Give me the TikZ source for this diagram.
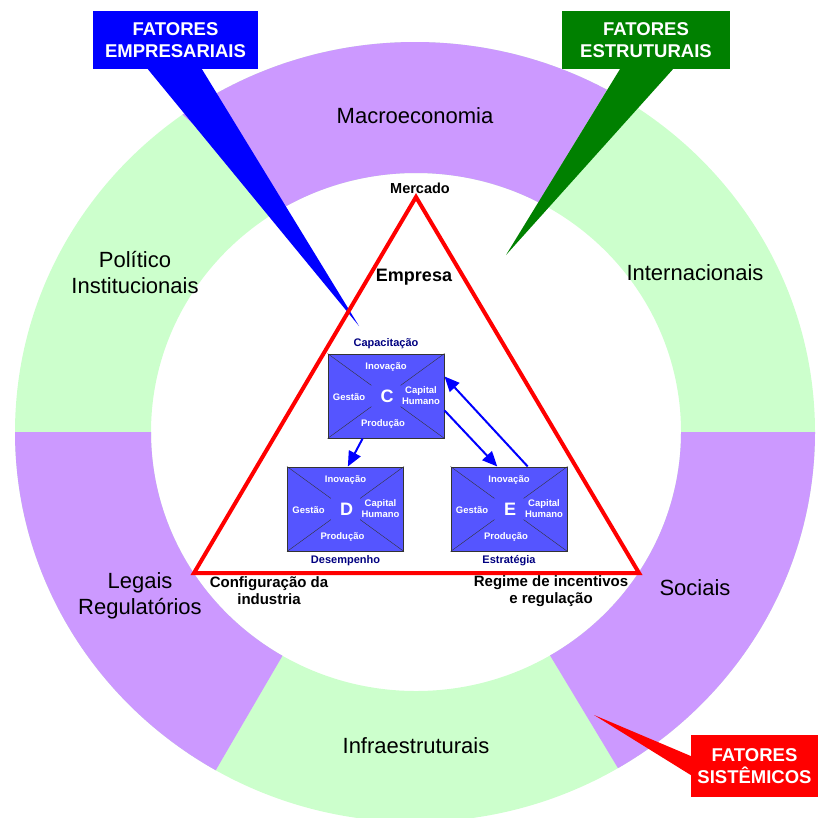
\documentclass[tikz,border=0pt]{standalone}
\usepackage{fontspec}
\setmainfont{Liberation Sans}
\usetikzlibrary{arrows.meta,positioning,calc}
\definecolor{lilas}{RGB}{204,153,255}
\definecolor{verdec}{RGB}{204,255,204}
\definecolor{azulbox}{RGB}{85,85,255}
\definecolor{marinho}{RGB}{0,0,128}
\definecolor{verdee}{RGB}{0,128,0}

\begin{document}
\begin{tikzpicture}[x=1pt,y=-1pt,>={Triangle[length=15pt,width=13pt]},
 seg/.style={font=\fontsize{22}{26}\selectfont,align=center},
 callout/.style={text=white,font=\fontsize{18.5}{22}\selectfont\bfseries,align=center,inner sep=0pt},
 fbox/.style={draw=black!80,line width=1pt,fill=azulbox,minimum width=116pt,minimum height=84pt,inner sep=0pt},
 intxt/.style={text=white,font=\fontsize{9.5}{11}\selectfont\bfseries,align=center},
 lbl/.style={text=marinho,font=\fontsize{11}{13}\selectfont\bfseries},
 tri/.style={font=\fontsize{15}{17}\selectfont\bfseries,align=center}]
\useasboundingbox (0,0) rectangle (818,817);
% anel dos fatores sistemicos
\fill[verdec,even odd rule] (415,432) ellipse [x radius=400pt,y radius=390pt]
 (416,432) ellipse [x radius=265pt,y radius=259pt];
\begin{scope}[even odd rule]
\clip (415,432) ellipse [x radius=400pt,y radius=390pt]
 (416,432) ellipse [x radius=265pt,y radius=259pt];
\fill[lilas] (-21,-65) -- (336,250) -- (506,256) -- (710,-80) -- cycle;
\fill[lilas] (-50,432) -- (350,432) -- (315,600) -- (150,883) -- (-50,883) -- cycle;
\fill[lilas] (880,432) -- (480,432) -- (516,599) -- (686,881) -- (880,881) -- cycle;
\end{scope}
\node[seg] (macro) at (415,116) {Macroeconomia};
\node[seg] (pol) at (135,273) {Político\\Institucionais};
\node[seg] (inter) at (695,273) {Internacionais};
\node[seg] (leg) at (140,596) {Legais\\Regulatórios};
\node[seg] (soc) at (695,588) {Sociais};
\node[seg] (infra) at (416,746) {Infraestruturais};
% chamadas
\node[callout,fill=blue,minimum width=165pt,minimum height=58pt] (femp) at (175.5,40) {FATORES\\EMPRESARIAIS};
\coordinate (femptip) at (359,326);
\fill[blue] ($(femp.south west)!0.333!(femp.south east)$) -- ($(femp.south west)!0.66!(femp.south east)$) -- (femptip) -- cycle;
\node[callout,fill=verdee,minimum width=168pt,minimum height=58pt] (fest) at (646,40) {FATORES\\ESTRUTURAIS};
\coordinate (festtip) at (506,255);
\fill[verdee] ($(fest.south west)!0.345!(fest.south east)$) -- ($(fest.south west)!0.66!(fest.south east)$) -- (festtip) -- cycle;
\node[callout,fill=red,minimum width=127pt,minimum height=62pt] (fsis) at (754.5,766) {FATORES\\SISTÊMICOS};
\coordinate (fsistip) at (594,715);
\fill[red] ($(fsis.north west)!0.34!(fsis.south west)$) -- ($(fsis.north west)!0.645!(fsis.south west)$) -- (fsistip) -- cycle;
% triangulo
\coordinate (topo) at (416,197);
\coordinate (esq) at (194,573);
\coordinate (dir) at (639,573);
\draw[red,line width=4pt] (topo) -- (esq) -- (dir) -- cycle;
\node[font=\fontsize{14.5}{17}\selectfont\bfseries] (merc) at (420,188) {Mercado};
\node[font=\fontsize{18}{22}\selectfont\bfseries] (empr) at (414,277) {Empresa};
\node[tri] (conf) at (269,591) {Configuração da\\industria};
\node[tri] (reg) at (551,591) {Regime de incentivos\\e regulação};
% caixas C, D, E
\foreach \n/\x/\y/\l in {c/386/396/C,d/345.5/509/D,e/509/509/E}{
 \node[fbox] (\n) at (\x,\y) {};
 \foreach \k in {north west,north east,south west,south east}
  \draw[black!80] (\n.\k) -- ($(\n.\k)!0.75!(\n.center)$);
 \node[text=white,font=\fontsize{18}{18}\selectfont\bfseries] at ($(\n.center)+(1,0)$) {\l};
 \node[intxt] at ($(\n.center)+(0,-29)$) {Inovação};
 \node[intxt] at ($(\n.center)+(-37,1)$) {Gestão};
 \node[intxt] at ($(\n.center)+(35,0)$) {Capital\\Humano};
 \node[intxt] at ($(\n.center)+(-3,28)$) {Produção};
}
\node[lbl,above=1pt of c] (capac) {Capacitação};
\node[lbl,below=0pt of d] (desemp) {Desempenho};
\node[lbl,below=0pt of e] (estrat) {Estratégia};
\draw[->,blue,line width=2pt] ($(c.south west)!0.3!(c.south east)$) -- ($(d.north west)!0.52!(d.north east)$);
\draw[->,blue,line width=2pt] ($(c.north east)!0.67!(c.south east)$) -- ($(e.north west)!0.4!(e.north east)$);
\draw[->,blue,line width=2pt] ($(e.north west)!0.66!(e.north east)$) -- ($(c.north east)!0.27!(c.south east)$);
\end{tikzpicture}
\end{document}
